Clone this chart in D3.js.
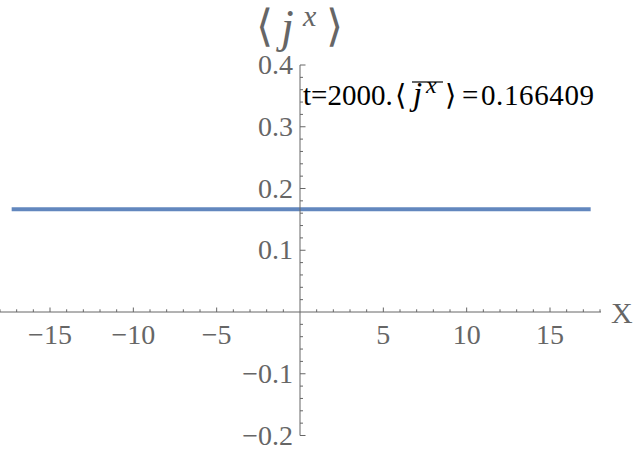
<!DOCTYPE html>
<html><head><meta charset="utf-8">
<script src="https://cdn.jsdelivr.net/npm/d3@7"></script>
<style>body{margin:0;background:#fff}svg{display:block}</style>
</head><body>
<script>
// ---- data ----
const xDomain = [-18, 18];
const yDomain = [-0.2, 0.4];
const xTickValues = [-15, -10, -5, 5, 10, 15];
const xTickLabels = ["\u221215", "\u221210", "\u22125", "5", "10", "15"];
const yTickValues = [-0.2, -0.1, 0.1, 0.2, 0.3, 0.4];
const yTickLabels = ["\u22120.2", "\u22120.1", "0.1", "0.2", "0.3", "0.4"];
const lineX = [-17.3, 17.44];
const lineY = [0.166409, 0.166409];
const tValue = "2000.";
const meanValue = "0.166409";

const W = 636, H = 455;
const serif = "Liberation Serif";
const grey = "#666";

const svg = d3.select("body").append("svg").attr("width", W).attr("height", H);
const x = d3.scaleLinear().domain(xDomain).range([0, 600]);
const y = d3.scaleLinear().domain(yDomain).range([435.5, 65]);

// line
svg.append("path")
  .datum(lineX.map((d, i) => [d, lineY[i]]))
  .attr("d", d3.line().x(d => x(d[0])).y(d => y(d[1])))
  .attr("stroke", "#6287BE").attr("stroke-width", 4)
  .attr("stroke-linecap", "butt").attr("fill", "none");

// axes lines
const y0 = y(0), x0 = x(0);
svg.append("line").attr("x1", 0).attr("x2", 601).attr("y1", y0).attr("y2", y0)
  .attr("stroke", grey).attr("stroke-width", 1);
svg.append("line").attr("x1", x0).attr("x2", x0).attr("y1", y(0.4)).attr("y2", y(-0.2))
  .attr("stroke", grey).attr("stroke-width", 1);

// x ticks
const xMinor = d3.range(-18, 19, 1).filter(v => v !== 0);
svg.append("g").selectAll("line").data(xMinor).join("line")
  .attr("x1", d => x(d)).attr("x2", d => x(d))
  .attr("y1", y0).attr("y2", d => y0 - (d % 5 === 0 ? 4.5 : 2.7))
  .attr("stroke", grey).attr("stroke-width", 1);
// y ticks
const yMinor = d3.range(-10, 21, 1).map(v => v / 50).filter(v => v !== 0);
svg.append("g").selectAll("line").data(yMinor).join("line")
  .attr("y1", d => y(d)).attr("y2", d => y(d))
  .attr("x1", x0).attr("x2", d => x0 + (Math.abs(Math.round(d * 50)) % 5 === 0 ? 5.5 : 3))
  .attr("stroke", grey).attr("stroke-width", 1);

// tick labels
svg.append("g").selectAll("text").data(xTickValues).join("text")
  .attr("x", d => x(d)).attr("y", 344)
  .attr("text-anchor", "middle")
  .attr("font-family", serif).attr("font-size", 28).attr("fill", grey)
  .text((d, i) => xTickLabels[i]);
svg.append("g").selectAll("text").data(yTickValues).join("text")
  .attr("x", 293).attr("y", d => y(d) + 9)
  .attr("text-anchor", "end")
  .attr("font-family", serif).attr("font-size", 28).attr("fill", grey)
  .text((d, i) => yTickLabels[i]);

// axis label X
svg.append("text").attr("x", 611).attr("y", 323)
  .attr("font-family", serif).attr("font-size", 30).attr("fill", grey).text("X");

// title <j^x>
const tg = svg.append("g").attr("font-family", serif).attr("fill", grey);
tg.append("text").attr("x", 256).attr("y", 41).attr("font-size", 44).text("\u27E8");
tg.append("text").attr("x", 281).attr("y", 42).attr("font-size", 46).attr("font-style", "italic").text("j");
tg.append("text").attr("x", 303).attr("y", 26).attr("font-size", 30).attr("font-style", "italic").text("x");
tg.append("text").attr("x", 326).attr("y", 41).attr("font-size", 44).text("\u27E9");

// annotation
const ann = svg.append("g").attr("font-family", serif).attr("font-size", 29).attr("fill", "#000");
const base = 105;
ann.append("text").attr("x", 303).attr("y", base).text("t=" + tValue);
ann.append("text").attr("x", 395).attr("y", base).text("\u27E8");
ann.append("text").attr("x", 413).attr("y", base).attr("font-size", 33).attr("font-style", "italic").text("j");
ann.append("text").attr("x", 426).attr("y", base - 12).attr("font-size", 24).attr("font-style", "italic").text("x");
ann.append("line").attr("x1", 412).attr("x2", 443).attr("y1", 82).attr("y2", 82)
  .attr("stroke", "#000").attr("stroke-width", 1.2);
ann.append("text").attr("x", 445).attr("y", base).text("\u27E9");
ann.append("text").attr("x", 462).attr("y", base).text("=");
ann.append("text").attr("x", 481).attr("y", base)
  .attr("textLength", 113).attr("lengthAdjust", "spacing").text(meanValue);
</script>
</body></html>
